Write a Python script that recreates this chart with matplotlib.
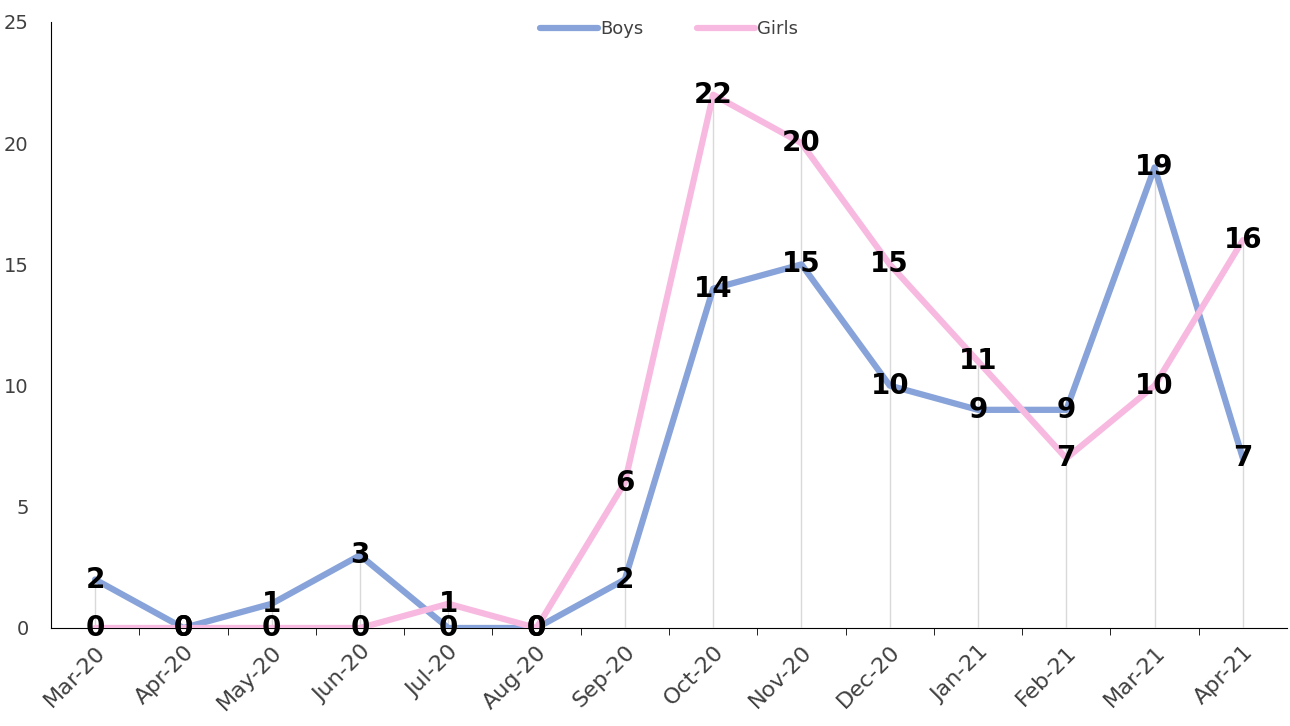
import matplotlib.pyplot as plt
import numpy as np

months = ["Mar-20", "Apr-20", "May-20", "Jun-20", "Jul-20", "Aug-20", "Sep-20",
          "Oct-20", "Nov-20", "Dec-20", "Jan-21", "Feb-21", "Mar-21", "Apr-21"]
boys = [2, 0, 1, 3, 0, 0, 2, 14, 15, 10, 9, 9, 19, 7]
girls = [0, 0, 0, 0, 1, 0, 6, 22, 20, 15, 11, 7, 10, 16]

boys_color = "#87A3D9"
girls_color = "#F8B9E1"

fig = plt.figure(figsize=(12.9, 7.26), dpi=100)
ax = fig.add_axes([0.0395, 0.135, 0.9582, 0.8347])

x = np.arange(len(months))

# drop lines from the higher series down to the axis
tops = np.maximum(boys, girls)
ax.vlines(x, 0, tops, color="#D9D9D9", lw=1, zorder=1)

ax.plot(x, boys, color=boys_color, lw=4.5, solid_capstyle="round", label="Boys", zorder=3)
ax.plot(x, girls, color=girls_color, lw=4.5, solid_capstyle="round", label="Girls", zorder=3)

for xi, b, g in zip(x, boys, girls):
    ax.text(xi, b, str(b), ha="center", va="center", fontsize=20, fontweight="bold",
            color="black", zorder=5)
    ax.text(xi, g, str(g), ha="center", va="center", fontsize=20, fontweight="bold",
            color="black", zorder=5)

ax.set_xlim(-0.5, len(months) - 0.5)
ax.set_ylim(0, 25)
ax.set_yticks(range(0, 26, 5))
ax.tick_params(axis="y", length=0, labelsize=14, labelcolor="#404040", pad=16)

ax.set_xticks(x)
ax.set_xticklabels(months, rotation=45, ha="right", rotation_mode="anchor",
                   fontsize=16, color="#404040")
ax.tick_params(axis="x", which="major", length=0, pad=10)
ax.set_xticks(x[:-1] + 0.5, minor=True)
ax.tick_params(axis="x", which="minor", length=5, direction="out", color="black")

for side in ["top", "right"]:
    ax.spines[side].set_visible(False)
ax.spines["left"].set_color("black")
ax.spines["bottom"].set_color("black")
ax.spines["bottom"].set_zorder(0)

leg = ax.legend(loc="upper center", bbox_to_anchor=(0.5, 1.03), ncol=2, frameon=False,
                fontsize=13, handlelength=3.2, columnspacing=3, handletextpad=0.1)
for t in leg.get_texts():
    t.set_color("#404040")

fig.savefig("out.png", dpi=100)
